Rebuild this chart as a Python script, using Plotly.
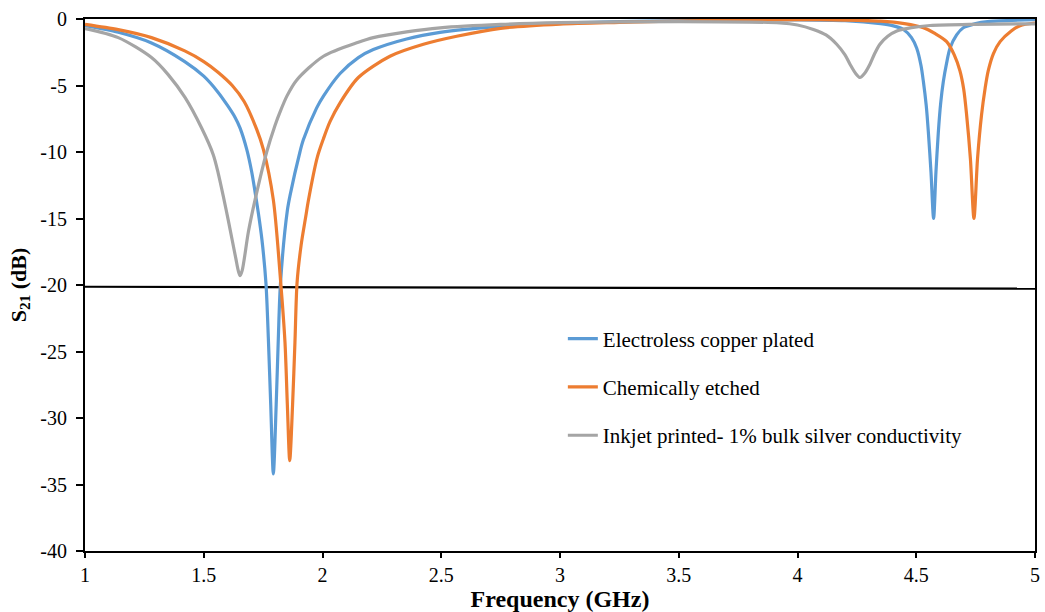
import plotly.graph_objects as go

# Frequency (GHz) / S21 (dB)
blue_f = [1.0, 1.14, 1.28, 1.42, 1.50, 1.56, 1.60, 1.632, 1.653, 1.681, 1.702, 1.716, 1.730, 1.745, 1.762,
          1.772, 1.782, 1.793, 1.805, 1.814, 1.823, 1.852, 1.863, 1.905, 1.919, 1.975, 2.004, 2.074, 2.151,
          2.214, 2.354, 2.495, 2.75, 3.0, 3.25, 3.5, 3.75, 4.0, 4.2, 4.35, 4.40, 4.446, 4.48, 4.502, 4.52,
          4.53, 4.542, 4.551, 4.562, 4.573, 4.583, 4.593, 4.603, 4.614, 4.628, 4.642, 4.67, 4.698, 4.75,
          4.80, 5.0]
blue_s21 = [-0.5, -1.0, -1.8, -3.2, -4.3, -5.5, -6.5, -7.4, -8.2, -9.8, -11.5, -13.0, -14.6, -16.6, -19.9,
            -24.0, -29.0, -34.2, -29.0, -24.0, -19.9, -14.4, -13.3, -10.0, -9.1, -6.7, -5.8, -4.1, -2.9,
            -2.3, -1.5, -1.0, -0.55, -0.32, -0.2, -0.13, -0.08, -0.06, -0.12, -0.35, -0.5, -0.79, -1.4, -2.2,
            -3.5, -4.7, -6.5, -8.5, -11.5, -15.0, -11.5, -8.5, -6.3, -4.7, -3.3, -2.2, -1.2, -0.66, -0.35,
            -0.2, -0.05]

orange_f = [1.0, 1.14, 1.28, 1.42, 1.50, 1.56, 1.62, 1.67, 1.723, 1.751, 1.793, 1.824, 1.842, 1.852, 1.862,
            1.874, 1.884, 1.893, 1.910, 1.93, 1.94, 1.978, 2.004, 2.032, 2.074, 2.151, 2.284, 2.425, 2.565,
            2.75, 3.0, 3.25, 3.5, 3.75, 4.0, 4.2, 4.35, 4.45, 4.53, 4.58, 4.628, 4.66, 4.684, 4.70, 4.712,
            4.728, 4.743, 4.758, 4.775, 4.79, 4.803, 4.825, 4.853, 4.90, 4.937, 5.0]
orange_s21 = [-0.4, -0.8, -1.4, -2.4, -3.2, -4.0, -5.0, -6.2, -8.3, -9.8, -13.6, -19.8, -24.3, -29.0, -33.2,
              -29.0, -24.3, -19.8, -17.0, -14.8, -13.7, -10.4, -9.0, -7.7, -6.3, -4.4, -2.8, -1.9, -1.3,
              -0.7, -0.38, -0.25, -0.15, -0.08, -0.05, -0.08, -0.16, -0.35, -0.66, -1.1, -1.7, -2.7, -3.9,
              -5.3, -7.2, -10.5, -15.0, -10.5, -7.2, -5.2, -3.9, -2.6, -1.7, -0.9, -0.5, -0.3]

gray_f = [1.0, 1.14, 1.28, 1.351, 1.421, 1.491, 1.54, 1.561, 1.582, 1.604, 1.635, 1.645, 1.653, 1.662,
          1.688, 1.716, 1.765, 1.80, 1.821, 1.85, 1.891, 2.004, 2.151, 2.214, 2.354, 2.495, 2.75, 3.0, 3.5,
          3.926, 4.0, 4.067, 4.12, 4.165, 4.20, 4.221, 4.245, 4.263, 4.282, 4.305, 4.325, 4.347, 4.38,
          4.418, 4.48, 4.558, 4.75, 5.0]
gray_s21 = [-0.72, -1.4, -2.9, -4.2, -5.9, -8.2, -10.2, -11.6, -13.3, -15.2, -18.0, -18.9, -19.3, -18.9,
            -16.0, -13.6, -10.0, -8.0, -7.0, -5.8, -4.6, -2.8, -1.75, -1.4, -0.97, -0.67, -0.41, -0.28, -0.2,
            -0.29, -0.45, -0.79, -1.2, -1.9, -2.7, -3.4, -4.1, -4.4, -4.1, -3.4, -2.6, -1.9, -1.3,
            -0.9, -0.65, -0.49, -0.4, -0.36]

threshold_f = [1.0, 5.0]
threshold_s21 = [-20.13, -20.28]

x_tickvals = [1, 1.5, 2, 2.5, 3, 3.5, 4, 4.5, 5]
x_ticktext = ["1", "1.5", "2", "2.5", "3", "3.5", "4", "4.5", "5"]
y_tickvals = [0, -5, -10, -15, -20, -25, -30, -35, -40]
y_ticktext = ["0", "-5", "-10", "-15", "-20", "-25", "-30", "-35", "-40"]

names = ["Electroless copper plated", "Chemically etched", "Inkjet printed- 1% bulk silver conductivity"]
colors = ["#5B9BD5", "#ED7D31", "#A5A5A5"]

FONT = "Liberation Serif"

fig = go.Figure()
fig.add_trace(go.Scatter(x=threshold_f, y=threshold_s21, mode="lines",
                         line=dict(color="black", width=2.2), showlegend=False, hoverinfo="skip"))
for i, (fx, fy) in enumerate([(blue_f, blue_s21), (orange_f, orange_s21), (gray_f, gray_s21)]):
    fig.add_trace(go.Scatter(x=fx, y=fy, mode="lines", name=names[i], legendgroup=f"g{i}",
                             line=dict(color=colors[i], width=3.2, shape="spline", smoothing=0.8)))

fig.update_layout(
    width=1045, height=612,
    margin=dict(l=85, r=10, t=19, b=61),
    paper_bgcolor="white", plot_bgcolor="white",
    font=dict(family=FONT, size=20, color="black"),
    showlegend=True,
    legend=dict(x=0.503, y=0.437, xanchor="left", yanchor="top", bgcolor="rgba(0,0,0,0)",
                font=dict(family=FONT, size=21, color="black"), tracegroupgap=18),
    xaxis=dict(range=[1, 5], tickvals=x_tickvals, ticktext=x_ticktext, showgrid=False, zeroline=False,
               showline=True, linecolor="black", linewidth=2, mirror=True, automargin=False,
               ticks="outside", ticklen=5, tickwidth=1.5, tickcolor="black",
               tickfont=dict(family=FONT, size=20),
               title=dict(text="<b>Frequency (GHz)</b>", font=dict(family=FONT, size=24), standoff=0)),
    yaxis=dict(range=[-40, 0], tickvals=y_tickvals, ticktext=y_ticktext, showgrid=False, zeroline=False,
               showline=True, linecolor="black", linewidth=2, mirror=True, automargin=False,
               ticks="outside", ticklen=7, tickwidth=1.5, tickcolor="black", ticklabelstandoff=5,
               tickfont=dict(family=FONT, size=20),
               title=dict(text="<b>S<sub>21</sub> (dB)</b>", font=dict(family=FONT, size=22), standoff=8)),
)

fig.write_html("out.html", config={"displayModeBar": False},
               post_script="document.body.style.margin='0px';")
